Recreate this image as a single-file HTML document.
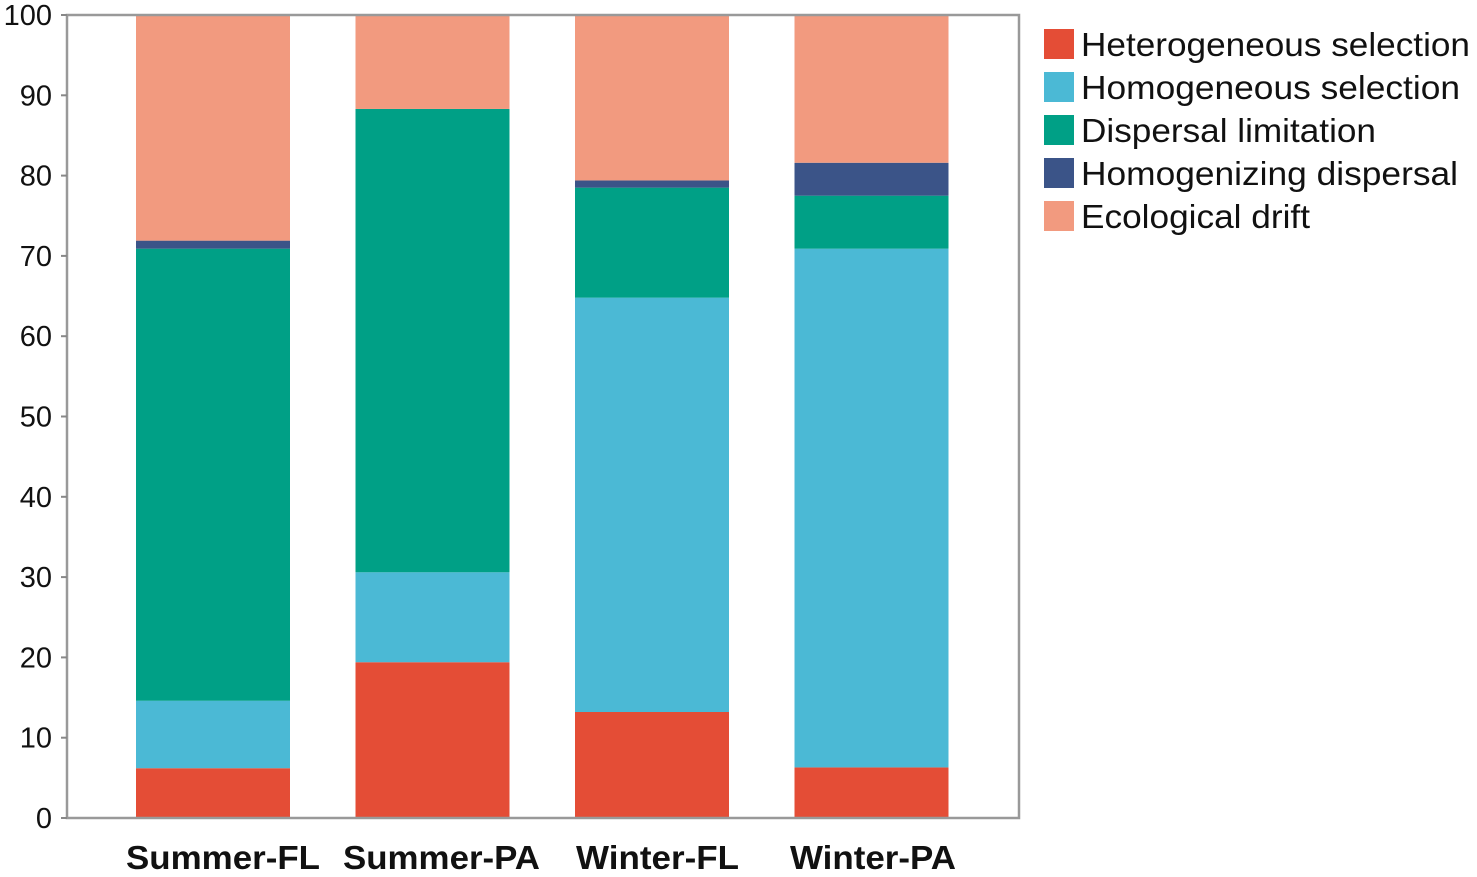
<!DOCTYPE html>
<html><head><meta charset="utf-8"><style>
html,body{margin:0;padding:0;background:#fff;}
svg{display:block;font-family:"Liberation Sans",Arial,sans-serif;}
</style></head><body>
<svg id="chart" width="1477" height="877"></svg>
<script>
const categories=["Summer-FL","Summer-PA","Winter-FL","Winter-PA"];
const seriesNames=["Heterogeneous selection","Homogeneous selection","Dispersal limitation","Homogenizing dispersal","Ecological drift"];
const heterogeneous=[6.2,19.4,13.2,6.3];
const homogeneous=[8.4,11.2,51.6,64.6];
const dispersal=[56.3,57.7,13.7,6.6];
const homogenizing=[1.0,0,0.9,4.1];
const drift=[28.1,11.7,20.6,18.4];
const yTicks=[0,10,20,30,40,50,60,70,80,90,100];
const colors=["#e44d36","#4bb9d5","#00a086","#3b5488","#f29a7f"];
const series=[heterogeneous,homogeneous,dispersal,homogenizing,drift];
const labelBox=[[126,194],[343,197],[576,163],[790,166]];
const legendLen=[389,379,295,377,229];
const NS="http://www.w3.org/2000/svg";
const svg=document.getElementById("chart");
const L=67,R=1019,T=15,B=818;
const y=v=>B-(v/100)*(B-T);
const xc=i=>213+i*219.5;
const bw=154;
function mk(tag,attrs,parent){const e=document.createElementNS(NS,tag);for(const k in attrs)e.setAttribute(k,attrs[k]);(parent||svg).appendChild(e);return e;}
categories.forEach((c,i)=>{
  let base=0;
  series.forEach((s,j)=>{
    const v=s[i];
    const r=mk("rect",{x:xc(i)-bw/2,y:y(base+v),width:bw,height:y(base)-y(base+v),fill:colors[j]});
    
    
    base+=v;
  });
  const t=mk("text",{x:labelBox[i][0],y:869,textLength:labelBox[i][1],lengthAdjust:"spacingAndGlyphs","font-size":"33","font-weight":"bold",fill:"#111"});
  t.textContent=c;
  
  
});
const frame=mk("rect",{x:L,y:T,width:R-L,height:B-T,fill:"none",stroke:"#999","stroke-width":"2.5"});


yTicks.forEach(v=>{
  const tk=mk("line",{x1:L-6,x2:L,y1:y(v),y2:y(v),stroke:"#888","stroke-width":"2"});
  
  
  const t=mk("text",{x:52,y:y(v)+10,"text-anchor":"end","font-size":"29",fill:"#111"});
  t.textContent=v;
  
  
});
seriesNames.forEach((n,j)=>{
  const cy=44+j*43;
  const g=mk("g",{});
  
  
  mk("rect",{x:1044,y:cy-15,width:30,height:30,fill:colors[j]},g);
  const t=mk("text",{x:1081,y:cy+12,textLength:legendLen[j],lengthAdjust:"spacingAndGlyphs","font-size":"33",fill:"#111"},g);
  t.textContent=n;
});
</script>
</body></html>
